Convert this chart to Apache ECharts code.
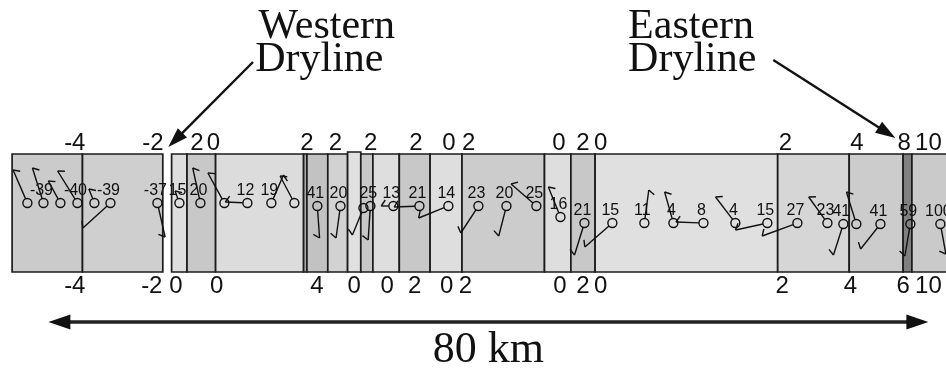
<!DOCTYPE html>
<html><head><meta charset="utf-8">
<script src="https://cdn.jsdelivr.net/npm/echarts@6/dist/echarts.min.js"></script>
<style>html,body{margin:0;padding:0;background:#fff}#c{width:946px;height:371px}</style>
</head><body><div id="c"></div>
<script>
// ---- boxes (km along transect), shade (grey level), top (plot units)
const boxStart = [-3.3, 3.1, 11.2, 12.6, 15.2, 23.2, 23.5, 25.4, 27.2, 28.4, 29.5, 31.9, 34.7, 37.6, 45.1, 47.5, 49.7, 66.3, 72.8, 77.7, 78.5];
const boxEnd   = [ 3.1, 10.4, 12.6, 15.2, 23.2, 23.5, 25.4, 27.2, 28.4, 29.5, 31.9, 34.7, 37.6, 45.1, 47.5, 49.7, 66.3, 72.8, 77.7, 78.5, 83.0];
const boxGrey  = [203, 207, 222, 200, 220, 172, 194, 210, 224, 200, 222, 200, 222, 204, 222, 200, 224, 214, 204, 128, 202];
const boxTop   = [118, 118, 118, 118, 118, 118, 118, 118, 120, 118, 118, 118, 118, 118, 118, 118, 118, 118, 118, 118, 118];

// ---- labels above / below the band
const topLabels   = ['-4', '-2', '2', '0', '2', '2', '2', '2', '0', '2', '0', '2', '0', '2', '4', '8', '10'];
const topLabelKm  = [2.4, 9.5, 13.5, 15.0, 23.5, 26.1, 29.3, 33.4, 36.4, 38.2, 46.4, 48.6, 50.2, 67.0, 73.5, 77.8, 80.0];
const botLabels   = ['-4', '-2', '0', '0', '4', '0', '0', '2', '0', '2', '0', '2', '0', '2', '4', '6', '10'];
const botLabelKm  = [2.4, 9.4, 11.6, 15.3, 24.4, 27.8, 30.8, 33.3, 36.2, 37.9, 46.5, 48.6, 50.2, 66.7, 72.9, 77.7, 80.0];

// ---- stations
const stationKm = [-1.91, -0.45, 1.09, 2.64, 4.18, 5.64, 9.91, 11.91, 13.82, 16.0, 18.09, 20.27, 22.36, 24.45, 26.55, 28.64, 29.27, 31.36, 33.73, 36.36, 39.09, 41.64, 44.36, 46.55, 48.73, 51.27, 54.18, 56.82, 59.55, 62.45, 65.36, 68.09, 70.82, 72.27, 73.45, 75.64, 78.36, 81.09];
const stationY  = [69, 69, 69, 69, 69, 69, 69, 69, 69, 69, 69, 69, 69, 66, 66, 64, 66, 66, 66, 66, 66, 66, 66, 55, 49, 49, 49, 49, 49, 49, 49, 49, 49, 48, 48, 48, 48, 48];
const stationLabel = ['', '-39', '', '-40', '', '-39', '-37', '15', '20', '', '12', '19', '', '41', '20', '', '25', '13', '21', '14', '23', '20', '25', '16', '21', '15', '11', '4', '8', '4', '15', '27', '23', '41', '', '41', '59', '100'];
const windDx = [-1.3, -1.0, -1.1, -1.8, -0.5, -2.5, 0.7, -0.4, -0.7, -1.5, -2.0, 1.1, -1.3, 0.2, -0.4, -1.0, -0.2, -1.1, -2.3, -2.7, -1.6, -0.7, -2.3, -1.1, -0.9, -2.5, 0.4, -0.8, -2.5, -1.8, -2.9, -3.2, -1.7, -0.9, -0.9, -1.8, -0.5, 0.5];
const windDy = [33, 35, 22, 32, 14, -25, -34, 12, 35, 30, 1, 28, 27, -32, -32, -27, -34, 0, -1, -12, -27, -30, 22, 30, -32, -24, 33, 31, 1, 26, -7, -13, 26, -31, 32, -25, -32, -30];

// ---- annotations
const annoText = ['Western', 'Dryline', 'Eastern', 'Dryline'];
const annoKm   = [19.1, 18.8, 52.7, 52.7];
const annoY    = [245.5, 212, 245.5, 212];
const arrowFromKm = [18.6, 65.9];
const arrowFromY  = [210, 212];
const arrowToKm   = [10.9, 77.0];
const arrowToY    = [125, 134];
const scaleKm = [0, 80];
const scaleY = -50;
const scaleText = '80 km';

const chart = echarts.init(document.getElementById('c'), null, {renderer: 'canvas'});
const SANS = '"Liberation Sans", Arial, Helvetica, sans-serif';
const SERIF = '"Liberation Serif", "Times New Roman", serif';

function textEl(str, x, y, font, align) {
  return {type: 'text', style: {text: str, x: x, y: y, font: font, fill: '#111',
    align: align || 'center', verticalAlign: 'middle', textAlign: align || 'center', textVerticalAlign: 'middle'}};
}
function arrowHead(tip, from, len, half) {
  const dx = tip[0] - from[0], dy = tip[1] - from[1];
  const L = Math.hypot(dx, dy), ux = dx / L, uy = dy / L;
  const bx = tip[0] - ux * len, by = tip[1] - uy * len;
  return {type: 'polygon', shape: {points: [[tip[0], tip[1]], [bx - uy * half, by + ux * half], [bx + uy * half, by - ux * half]]},
    style: {fill: '#111'}};
}

const option = {
  animation: false,
  backgroundColor: '#fff',
  grid: {left: 0, right: 0, top: 0, bottom: 0},
  xAxis: {type: 'value', min: -4.4, max: 81.6, show: false},
  yAxis: {type: 'value', min: -99, max: 272, show: false},
  series: [
    {
      type: 'custom', z: 1, clip: false,
      data: boxStart.map((s, i) => [s, boxEnd[i], 0, boxTop[i], boxGrey[i]]),
      renderItem: function (params, api) {
        const p0 = api.coord([api.value(0), api.value(3)]);
        const p1 = api.coord([api.value(1), api.value(2)]);
        const g = api.value(4);
        return {type: 'rect', shape: {x: p0[0], y: p0[1], width: p1[0] - p0[0], height: p1[1] - p0[1]},
          style: {fill: 'rgb(' + g + ',' + g + ',' + g + ')', stroke: '#1c1c1c', lineWidth: 1.7}};
      }
    },
    {
      type: 'custom', z: 2, clip: false,
      data: stationKm.map((k, i) => [k, stationY[i], windDx[i], windDy[i]]),
      renderItem: function (params, api) {
        const i = params.dataIndex;
        const c = api.coord([api.value(0), api.value(1)]);
        const e = api.coord([api.value(0) + api.value(2), api.value(1) + api.value(3)]);
        const dx = e[0] - c[0], dy = e[1] - c[1];
        const L = Math.hypot(dx, dy) || 1, ux = dx / L, uy = dy / L;
        const r = 4.5;
        const children = [];
        if (L > r + 1) {
          children.push({type: 'line', shape: {x1: c[0] + ux * r, y1: c[1] + uy * r, x2: e[0], y2: e[1]},
            style: {stroke: '#111', lineWidth: 1.4}});
          const px = -uy, py = ux;
          children.push({type: 'line', shape: {x1: e[0], y1: e[1], x2: e[0] + px * 6 - ux * 4, y2: e[1] + py * 6 - uy * 4},
            style: {stroke: '#111', lineWidth: 1.4}});
        }
        children.push({type: 'circle', shape: {cx: c[0], cy: c[1], r: r}, style: {fill: 'none', stroke: '#111', lineWidth: 1.4}});
        if (stationLabel[i]) children.push(textEl(stationLabel[i], c[0] - 2, c[1] - 12, '16px ' + SANS));
        return {type: 'group', children: children};
      }
    },
    {
      type: 'custom', z: 3, clip: false,
      data: topLabelKm.map((k, i) => [k, 128.5, i, 0]).concat(botLabelKm.map((k, i) => [k, -14, i, 1])),
      renderItem: function (params, api) {
        const p = api.coord([api.value(0), api.value(1)]);
        const arr = api.value(3) === 0 ? topLabels : botLabels;
        return textEl(arr[api.value(2)], p[0], p[1], '24px ' + SANS);
      }
    },
    {
      type: 'custom', z: 4, clip: false,
      data: annoKm.map((k, i) => [k, annoY[i]]),
      renderItem: function (params, api) {
        const p = api.coord([api.value(0), api.value(1)]);
        return textEl(annoText[params.dataIndex], p[0], p[1], '42px ' + SERIF, 'left');
      }
    },
    {
      type: 'custom', z: 4, clip: false,
      data: arrowFromKm.map((k, i) => [k, arrowFromY[i], arrowToKm[i], arrowToY[i]]),
      renderItem: function (params, api) {
        const a = api.coord([api.value(0), api.value(1)]);
        const b = api.coord([api.value(2), api.value(3)]);
        const dx = b[0] - a[0], dy = b[1] - a[1];
        const L = Math.hypot(dx, dy);
        const bx = b[0] - dx / L * 14, by = b[1] - dy / L * 14;
        return {type: 'group', children: [
          {type: 'line', shape: {x1: a[0], y1: a[1], x2: bx, y2: by}, style: {stroke: '#111', lineWidth: 2.4}},
          arrowHead(b, a, 20, 6.5)
        ]};
      }
    },
    {
      type: 'custom', z: 4, clip: false,
      data: [[scaleKm[0], scaleY, scaleKm[1], scaleY]],
      renderItem: function (params, api) {
        const a = api.coord([api.value(0), api.value(1)]);
        const b = api.coord([api.value(2), api.value(3)]);
        const m = api.coord([(api.value(0) + api.value(2)) / 2, -78]);
        return {type: 'group', children: [
          {type: 'line', shape: {x1: a[0] + 15, y1: a[1], x2: b[0] - 15, y2: b[1]}, style: {stroke: '#222', lineWidth: 3.4}},
          arrowHead(a, b, 22, 7.5),
          arrowHead(b, a, 22, 7.5),
          textEl(scaleText, m[0], m[1], '44px ' + SERIF)
        ]};
      }
    }
  ]
};
chart.setOption(option);
</script>
</body></html>
